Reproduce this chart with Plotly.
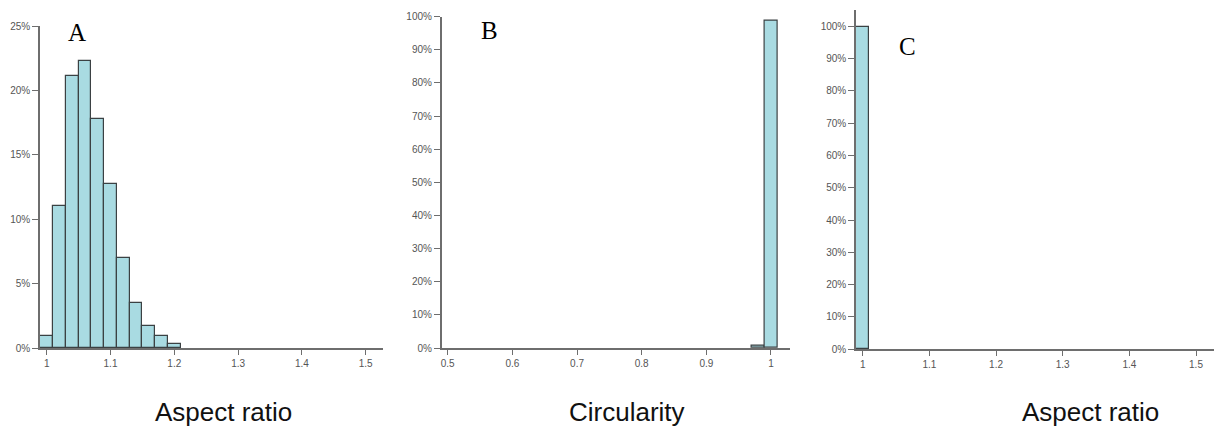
import plotly.graph_objects as go

# ---- data ----
a_bins = [1.00, 1.02, 1.04, 1.06, 1.08, 1.10, 1.12, 1.14, 1.16, 1.18, 1.20]
a_pct = [0.9, 11.0, 21.1, 22.3, 17.8, 12.7, 7.0, 3.5, 1.7, 0.9, 0.3]

b_bins = [0.98, 1.00]
b_pct = [0.8, 98.8]

c_bins = [1.00]
c_pct = [99.6]

bin_width = 0.02
panel_labels = ["A", "B", "C"]
x_titles = ["Aspect ratio", "Circularity", "Aspect ratio"]

# ---- style ----
FILL = "#a9dbe2"
EDGE = "#3b4143"
AXIS = "#6e6e6e"
TICKFONT = dict(family="Liberation Sans, Arial, sans-serif", size=10, color="#555555")
W, H = 1214, 435

fig = go.Figure()

def px_x(p):
    return p / W

def px_y(p):
    return 1 - p / H

panels = [
    dict(x=a_bins, y=a_pct, xd=[40, 383], yd=[348, 26], xr=[0.9895, 1.5271], yr=[0, 25], dy=5, xt0=1.0),
    dict(x=b_bins, y=b_pct, xd=[441.7, 790], yd=[348, 16.7], xr=[0.4907, 1.0294], yr=[0, 100], dy=10, xt0=0.5),
    dict(x=c_bins, y=c_pct, xd=[856, 1214], yd=[349.3, 10], xr=[0.98995, 1.527], yr=[0, 105], dy=10, xt0=1.0),
]

for i, p in enumerate(panels):
    n = "" if i == 0 else str(i + 1)
    fig.add_trace(go.Bar(
        x=p["x"], y=p["y"], width=bin_width,
        marker=dict(color=FILL, line=dict(color=EDGE, width=1.2)),
        xaxis="x" + n, yaxis="y" + n, showlegend=False, hoverinfo="x+y",
    ))
    fig.layout["xaxis" + n] = dict(
        domain=[px_x(p["xd"][0]), px_x(p["xd"][1])],
        range=p["xr"], anchor="y" + n, automargin=False,
        showline=True, linecolor=AXIS, linewidth=1.5,
        ticks="outside", ticklen=5, tickcolor=AXIS, tickwidth=1.2,
        tick0=p["xt0"], dtick=0.1, tickformat="~g",
        showgrid=False, zeroline=False, tickfont=TICKFONT, fixedrange=True,
    )
    fig.layout["yaxis" + n] = dict(
        domain=[px_y(p["yd"][0]), px_y(p["yd"][1])],
        range=p["yr"], anchor="x" + n, automargin=False,
        showline=True, linecolor=AXIS, linewidth=1.5,
        ticks="outside", ticklen=6, tickcolor=AXIS, tickwidth=1.2,
        tick0=0, dtick=p["dy"], ticksuffix="%",
        showgrid=False, zeroline=False, tickfont=TICKFONT, fixedrange=True,
    )

label_pos = [(77, 32), (489, 31), (907, 47)]
for lab, (lx, ly) in zip(panel_labels, label_pos):
    fig.add_annotation(
        text=lab, xref="paper", yref="paper", x=px_x(lx), y=px_y(ly),
        xanchor="center", yanchor="middle", showarrow=False,
        font=dict(family="Liberation Serif, Times New Roman, serif", size=25, color="#000000"),
    )

title_pos = [(223, 412), (627, 412), (1090, 412)]
for t, (tx, ty) in zip(x_titles, title_pos):
    fig.add_annotation(
        text=t, xref="paper", yref="paper", x=px_x(tx), y=px_y(ty),
        xanchor="center", yanchor="middle", showarrow=False,
        font=dict(family="Liberation Sans, Arial, sans-serif", size=26, color="#111111"),
    )

fig.update_layout(
    width=W, height=H,
    margin=dict(l=0, r=0, t=0, b=0, autoexpand=False),
    paper_bgcolor="white", plot_bgcolor="white",
    bargap=0,
)

fig.write_html(
    "out.html",
    config={"displayModeBar": False},
    post_script="document.body.style.margin='0';document.body.style.overflow='hidden';",
)
